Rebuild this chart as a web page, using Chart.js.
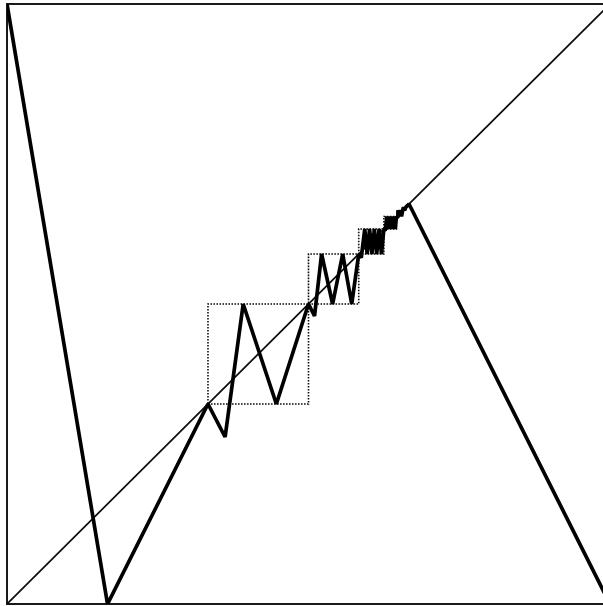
<!DOCTYPE html>
<html>
<head>
<meta charset="utf-8">
<title>Self-similar interval map</title>
<script src="https://cdn.jsdelivr.net/npm/chart.js@4/dist/chart.umd.min.js"></script>
<style>
  html, body { margin: 0; padding: 0; background: #fff; overflow: hidden; }
  #wrap { width: 603px; height: 606px; }
</style>
</head>
<body>
<div id="wrap"><canvas id="c" width="603" height="606"></canvas></div>
<script>
// Graph of the map: vertices of the piecewise-linear curve (x, f(x)).
const mapX = [
  0, 0.1667, 0.3333,
  // first box [1/3, 1/2]
  0.3617, 0.3917, 0.4467, 0.5,
  // second box [1/2, 7/12]
  0.5100, 0.5217, 0.5400, 0.5567, 0.5717, 0.5833,
  // third box [7/12, 5/8]
  0.5875, 0.5933, 0.5973, 0.6013, 0.6052, 0.6092, 0.6131, 0.6171, 0.6210, 0.6250,
  // fourth box [5/8, 31/48]
  0.6271, 0.6300, 0.6320, 0.6340, 0.6359, 0.6379, 0.6399, 0.6419, 0.6439, 0.6458,
  // fifth box [31/48, 21/32]
  0.6469, 0.6483, 0.6503, 0.6523, 0.6543, 0.6563,
  // sixth box
  0.6575, 0.6595, 0.6615,
  0.6667, 1
];
const mapY = [
  1, 0, 0.3333,
  0.2783, 0.5, 0.3333, 0.5,
  0.4800, 0.5833, 0.5, 0.5833, 0.5, 0.5833,
  0.5771, 0.6250, 0.5833, 0.6250, 0.5833, 0.6250, 0.5833, 0.6250, 0.5833, 0.6250,
  0.6219, 0.6458, 0.6250, 0.6458, 0.6250, 0.6458, 0.6250, 0.6458, 0.6250, 0.6458,
  0.6443, 0.6563, 0.6458, 0.6563, 0.6458, 0.6563,
  0.6615, 0.6563, 0.6615,
  0.6667, 0
];

// Edges of the nested dotted boxes along the diagonal.
const boxEdges = [0.3333, 0.5, 0.5833, 0.625, 0.6458];

// Identity line y = x.
const diagX = [0, 1];
const diagY = [0, 1];

const ink = '#0d0d0d';

const mapPoints = mapX.map((x, i) => ({ x, y: mapY[i] }));
const diagPoints = diagX.map((x, i) => ({ x, y: diagY[i] }));

const boxSets = [];
for (let i = 0; i < boxEdges.length - 1; i++) {
  const a = boxEdges[i], b = boxEdges[i + 1];
  boxSets.push({
    data: [{x: a, y: a}, {x: b, y: a}, {x: b, y: b}, {x: a, y: b}, {x: a, y: a}],
    showLine: true,
    borderColor: ink,
    borderWidth: 1.6,
    borderDash: [1.6, 1.4],
    pointRadius: 0,
    fill: false
  });
}

const hiddenAxis = (pos, max) => ({
  type: 'linear',
  position: pos,
  min: 0,
  max: max,
  grid: { display: false, drawTicks: false, tickLength: 0 },
  ticks: { display: false },
  border: { display: true, color: '#1a1a1a', width: 2 }
});

new Chart(document.getElementById('c'), {
  type: 'scatter',
  data: {
    datasets: [
      {
        data: mapPoints,
        showLine: true,
        borderColor: '#000',
        borderWidth: 3.7,
        borderJoinStyle: 'bevel',
        pointRadius: 0,
        fill: false
      },
      {
        data: diagPoints,
        showLine: true,
        borderColor: ink,
        borderWidth: 1.7,
        pointRadius: 0,
        fill: false
      },
      ...boxSets
    ]
  },
  options: {
    responsive: false,
    animation: false,
    layout: { padding: { left: 7, top: 4, right: 0, bottom: 2 } },
    plugins: { legend: { display: false }, tooltip: { enabled: false } },
    scales: {
      x: hiddenAxis('bottom', 0.9884),
      xTop: hiddenAxis('top', 0.9884),
      y: hiddenAxis('left', 1)
    }
  }
});
</script>
</body>
</html>
